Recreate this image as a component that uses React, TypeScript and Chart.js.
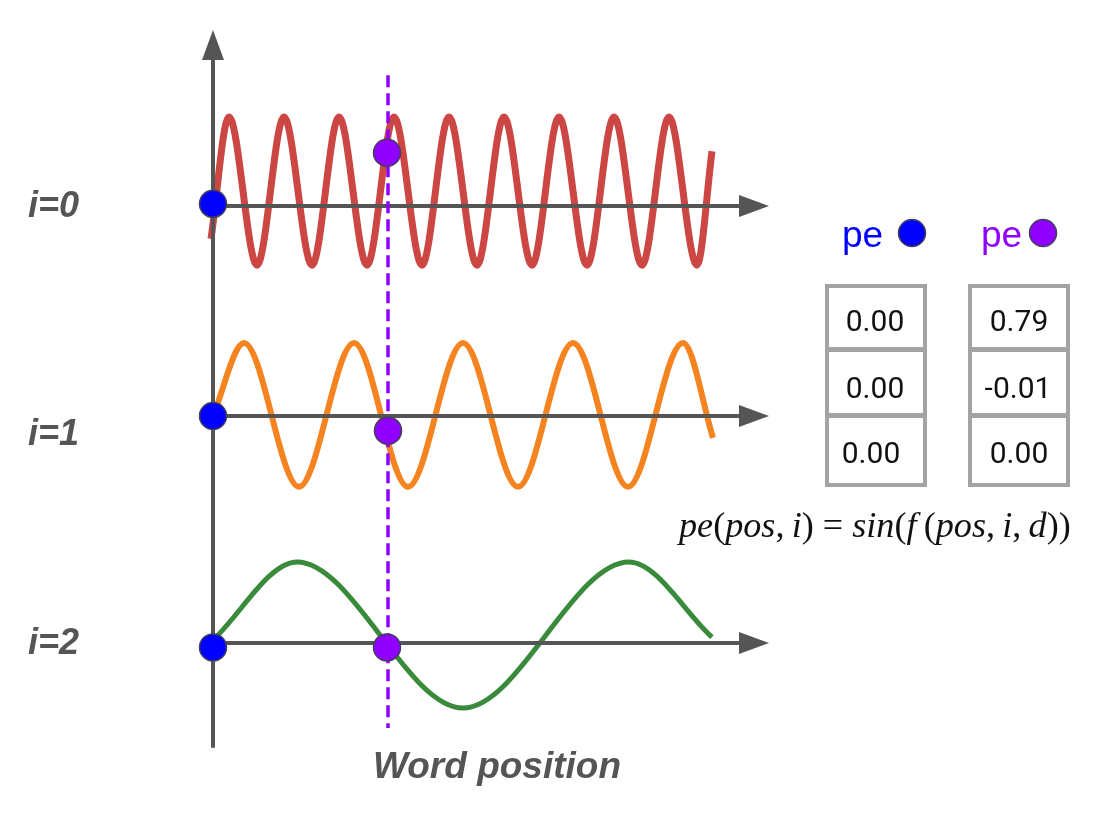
import React, { useEffect, useRef } from "react";
import { Chart, registerables } from "chart.js";

Chart.register(...registerables);

// ---------------- data ----------------
// x = word position, y = encoding value around each row's own axis
const ROW_LABELS = ["i=0", "i=1", "i=2"];

const RED_X = [-0.2, 1.6, 4.4, 7.1, 9.9, 12.6, 15.4, 18.1, 20.9, 23.6, 26.4, 29.1, 31.9, 34.6, 37.4, 40.1, 42.9, 45.6, 48.4, 49.9];
const RED_Y = [-0.45, 1.22, -0.81, 1.22, -0.81, 1.22, -0.81, 1.22, -0.81, 1.22, -0.81, 1.22, -0.81, 1.22, -0.81, 1.22, -0.81, 1.22, -0.81, 0.75];

const ORANGE_X = [0, 3.1, 8.6, 14.1, 19.5, 25.0, 30.5, 36.0, 41.5, 47.0, 50.0];
const ORANGE_Y = [0, 1.0, -0.97, 1.0, -0.97, 1.0, -0.97, 1.0, -0.97, 1.0, -0.3];

const GREEN_X = [0, 8.4, 25.0, 41.6, 49.9];
const GREEN_Y = [0.04, 1.11, -0.89, 1.11, 0.08];

const BLUE_DOT_X = [0, 0, 0];
const BLUE_DOT_Y = [0.03, 0, -0.06];
const PURPLE_DOT_X = [17.4, 17.5, 17.4];
const PURPLE_DOT_Y = [0.73, -0.2, -0.06];

const WORD_POS = 17.5;
const DASH_Y = [1.79, -7.15];

const PE_BLUE = [0.0, 0.0, 0.0];
const PE_PURPLE = [0.79, -0.01, 0.0];

// ---------------- layout / style ----------------
const W = 1100;
const H = 825;
const X_MIN = -21.3;
const X_MAX = 88.7;
const Y_MIN = -8.479;
const Y_MAX = 2.822;
const ROW_OFFSET = [0, -2.877, -5.986];
const V_AXIS_TOP = 2.41;
const V_AXIS_BOTTOM = -7.42;
const H_AXIS_END = 55.6;

const AXIS_COLOR = "#555555";
const RED = "#cc4744";
const ORANGE = "#f5831f";
const GREEN = "#3a8a3c";
const BLUE = "#0000ff";
const PURPLE = "#8f00ff";
const DOT_BORDER = "#44405a";
const TABLE_GRAY = "#a3a3a3";

const pts = (xs: number[], ys: number[], off: number | number[]) =>
  xs.map((x, i) => ({ x, y: ys[i] + (Array.isArray(off) ? off[i] : off) }));

function drawAxes(chart: any) {
  const { ctx, scales } = chart;
  const xs = scales.x;
  const ys = scales.y;
  const x0 = xs.getPixelForValue(0);
  ctx.save();
  ctx.strokeStyle = AXIS_COLOR;
  ctx.fillStyle = AXIS_COLOR;
  ctx.lineWidth = 4;
  const yTop = ys.getPixelForValue(V_AXIS_TOP);
  const yBot = ys.getPixelForValue(V_AXIS_BOTTOM);
  ctx.beginPath();
  ctx.moveTo(x0, yBot);
  ctx.lineTo(x0, yTop + 26);
  ctx.stroke();
  ctx.beginPath();
  ctx.moveTo(x0, yTop);
  ctx.lineTo(x0 - 11, yTop + 30);
  ctx.lineTo(x0 + 11, yTop + 30);
  ctx.closePath();
  ctx.fill();
  const xEnd = xs.getPixelForValue(H_AXIS_END);
  ROW_OFFSET.forEach((off) => {
    const y = ys.getPixelForValue(off);
    ctx.beginPath();
    ctx.moveTo(x0, y);
    ctx.lineTo(xEnd - 26, y);
    ctx.stroke();
    ctx.beginPath();
    ctx.moveTo(xEnd, y);
    ctx.lineTo(xEnd - 30, y - 11);
    ctx.lineTo(xEnd - 30, y + 11);
    ctx.closePath();
    ctx.fill();
  });
  ctx.restore();
}

function dot(ctx: CanvasRenderingContext2D, x: number, y: number, r: number, color: string) {
  ctx.beginPath();
  ctx.arc(x, y, r, 0, Math.PI * 2);
  ctx.fillStyle = color;
  ctx.fill();
  ctx.lineWidth = 1.5;
  ctx.strokeStyle = DOT_BORDER;
  ctx.stroke();
}

function drawTable(ctx: CanvasRenderingContext2D, left: number, values: number[], centers: number[]) {
  const top = 284;
  const width = 102;
  const height = 203;
  ctx.fillStyle = TABLE_GRAY;
  ctx.fillRect(left, top, width, height);
  ctx.fillStyle = "#ffffff";
  const cells = [
    [288, 347],
    [352, 413],
    [418, 483],
  ];
  cells.forEach(([a, b]) => ctx.fillRect(left + 4, a, width - 8, b - a));
  ctx.fillStyle = "#111111";
  ctx.font = '30px Roboto, "Liberation Sans", sans-serif';
  ctx.textAlign = "center";
  ctx.textBaseline = "alphabetic";
  const baselines = [331, 398, 463];
  values.forEach((v, i) => ctx.fillText(v.toFixed(2), centers[i], baselines[i]));
}

function drawFormula(ctx: CanvasRenderingContext2D) {
  const parts: [string, boolean][] = [
    ["pe", true], ["(", false], ["pos", true], [",", false], ["\u2009", false], ["i", true], [")", false],
    ["\u2005=\u2005", false], ["sin", true], ["(", false], ["f", true], ["\u2009(", false], ["pos", true], [",", false],
    ["\u2009", false], ["i", true], [",", false], ["\u2009", false], ["d", true], ["))", false],
  ];
  const fam = '"Liberation Serif", "DejaVu Serif", serif';
  const measure = (size: number) =>
    parts.reduce((s, [t, it]) => {
      ctx.font = `${it ? "italic " : ""}${size}px ${fam}`;
      return s + ctx.measureText(t).width;
    }, 0);
  const base = 30;
  const targetW = 392;
  const size = (base * targetW) / measure(base);
  let x = 679;
  const y = 537;
  ctx.fillStyle = "#111111";
  ctx.textAlign = "left";
  ctx.textBaseline = "alphabetic";
  parts.forEach(([t, it]) => {
    ctx.font = `${it ? "italic " : ""}${size}px ${fam}`;
    ctx.fillText(t, x, y);
    x += ctx.measureText(t).width;
  });
}

function drawAnnotations(chart: any) {
  const { ctx, scales } = chart;
  const ys = scales.y;
  ctx.save();
  // row labels
  ctx.fillStyle = AXIS_COLOR;
  ctx.font = 'italic bold 36px "Liberation Sans", Arial, sans-serif';
  ctx.textAlign = "left";
  ctx.textBaseline = "alphabetic";
  const labelShift = [11, 29, 11];
  ROW_LABELS.forEach((t, i) => {
    ctx.fillText(t, 28, ys.getPixelForValue(ROW_OFFSET[i]) + labelShift[i]);
  });
  // x-axis title
  ctx.font = 'italic bold 37px "Liberation Sans", Arial, sans-serif';
  ctx.textAlign = "center";
  ctx.fillText("Word position", 497, 778);
  // pe headers
  ctx.font = '37px "Liberation Sans", Arial, sans-serif';
  ctx.textAlign = "left";
  ctx.fillStyle = BLUE;
  ctx.fillText("pe", 842, 247);
  dot(ctx, 912, 233, 13.5, BLUE);
  ctx.fillStyle = PURPLE;
  ctx.fillText("pe", 981, 247);
  dot(ctx, 1043, 233, 13.5, PURPLE);
  // tables
  drawTable(ctx, 825, PE_BLUE, [875, 875, 871]);
  drawTable(ctx, 968, PE_PURPLE, [1019, 1018, 1019]);
  // formula
  drawFormula(ctx);
  ctx.restore();
}

const overlayPlugin = {
  id: "peOverlay",
  afterDatasetDraw(chart: any, args: any) {
    if (args.index === 3) drawAxes(chart);
  },
  afterDraw(chart: any) {
    drawAnnotations(chart);
  },
};

export default function App() {
  const ref = useRef<HTMLCanvasElement | null>(null);
  useEffect(() => {
    if (!ref.current) return;
    const dotStyle = (color: string) => ({
      showLine: false,
      pointRadius: 13.5,
      pointHoverRadius: 13.5,
      pointBackgroundColor: color,
      pointBorderColor: DOT_BORDER,
      pointBorderWidth: 1.5,
      clip: false as any,
    });
    const curve = (color: string, width: number) => ({
      borderColor: color,
      borderWidth: width,
      pointRadius: 0,
      fill: false,
      cubicInterpolationMode: "monotone" as const,
    });
    const chart = new Chart(ref.current, {
      type: "line",
      data: {
        datasets: [
          { label: "pe purple", data: pts(PURPLE_DOT_X, PURPLE_DOT_Y, ROW_OFFSET), ...dotStyle(PURPLE) },
          { label: "pe blue", data: pts(BLUE_DOT_X, BLUE_DOT_Y, ROW_OFFSET), ...dotStyle(BLUE) },
          {
            label: "word position",
            data: [
              { x: WORD_POS, y: DASH_Y[0] },
              { x: WORD_POS, y: DASH_Y[1] },
            ],
            borderColor: PURPLE,
            borderWidth: 3.5,
            borderDash: [12, 6],
            pointRadius: 0,
          },
          { label: "i=0", data: pts(RED_X, RED_Y, ROW_OFFSET[0]), ...curve(RED, 7) },
          { label: "i=1", data: pts(ORANGE_X, ORANGE_Y, ROW_OFFSET[1]), ...curve(ORANGE, 6) },
          { label: "i=2", data: pts(GREEN_X, GREEN_Y, ROW_OFFSET[2]), ...curve(GREEN, 5) },
        ] as any,
      },
      options: {
        animation: false,
        responsive: false,
        maintainAspectRatio: false,
        layout: { padding: 0, autoPadding: false },
        events: [],
        plugins: { legend: { display: false }, tooltip: { enabled: false } },
        scales: {
          x: { type: "linear", min: X_MIN, max: X_MAX, display: false },
          y: { type: "linear", min: Y_MIN, max: Y_MAX, display: false },
        },
      },
      plugins: [overlayPlugin],
    });
    return () => chart.destroy();
  }, []);
  return (
    <div style={{ position: "absolute", left: 0, top: 0, width: W, height: H, background: "#ffffff" }}>
      <canvas ref={ref} width={W} height={H} style={{ display: "block", width: W, height: H }} />
    </div>
  );
}
